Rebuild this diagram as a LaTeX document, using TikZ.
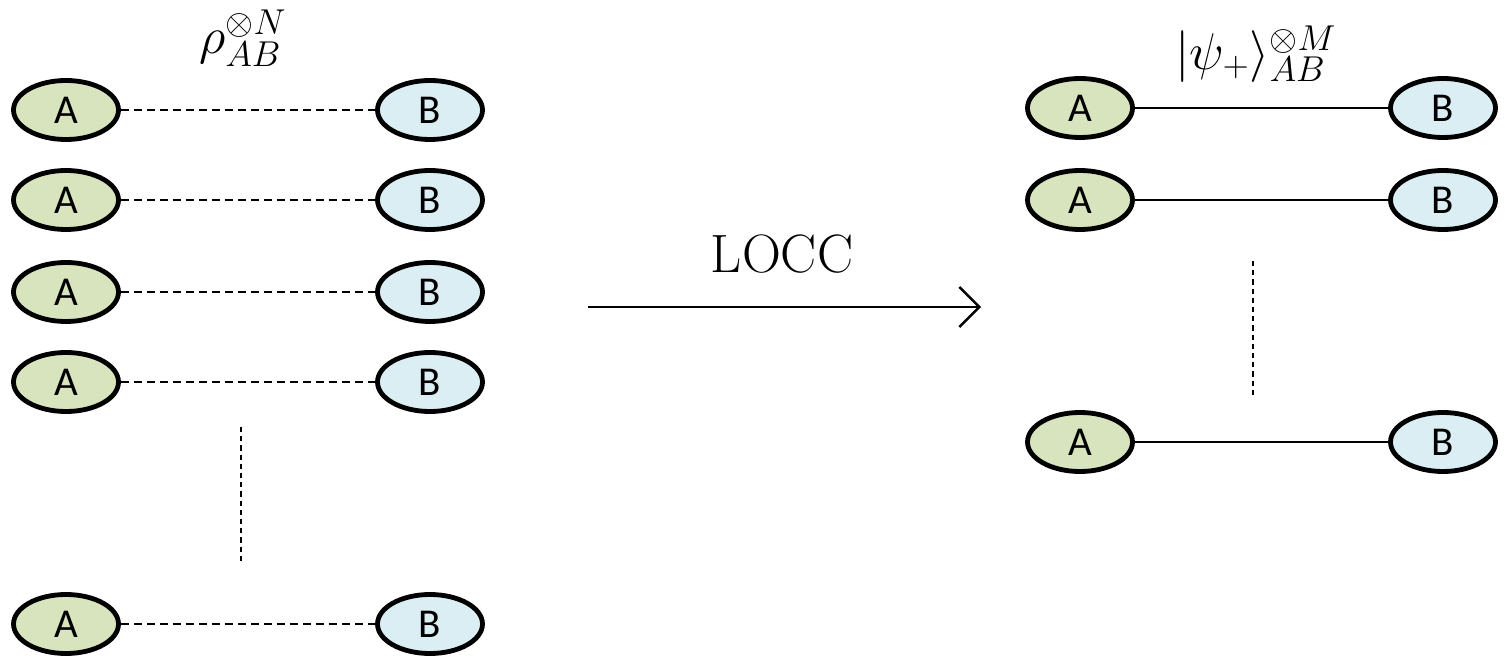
\documentclass[tikz,border=0pt]{standalone}
\usepackage{fontspec}
\newfontfamily\abfont{Carlito}
\usetikzlibrary{shapes.geometric,arrows.meta}
\DeclareMathSizes{24.88}{24.88}{17.28}{12}
\definecolor{agreen}{RGB}{215,228,189}
\definecolor{bblue}{RGB}{219,238,244}
\newcommand{\mathlabtext}[1]{\scalebox{1.04}{\fontsize{24.88}{30}\selectfont$#1$}}
\tikzset{
  party/.style={ellipse, draw=black, line width=2.4pt, minimum width=52.5pt, minimum height=29.5pt, inner sep=0pt, font=\abfont\fontsize{20.5}{24}\selectfont},
  alice/.style={party, fill=agreen},
  bob/.style={party, fill=bblue},
  noisy/.style={line width=0.9pt, dash pattern=on 4pt off 2.5pt},
  pure/.style={line width=0.9pt},
  dots/.style={line width=0.7pt, dash pattern=on 2.6pt off 2pt},
  mathlab/.style={inner sep=0pt},
}
\begin{document}
\begin{tikzpicture}[x=0.5pt,y=-0.5pt]
\useasboundingbox (0,0) rectangle (1505,657);
% left column
\foreach \i/\y in {1/110,2/200,3/292,4/382,5/624}{
  \node[alice] (la\i) at (66,\y) {A};
  \node[bob] (lb\i) at (430,\y) {B};
  \draw[noisy] (la\i) -- (lb\i);
}
\coordinate (lv1) at (241,427);
\coordinate (lv2) at (241,563);
\draw[dots] (lv1) -- (lv2);
\node[mathlab] (rho) at (243,38) {\mathlabtext{\rho^{\otimes N}_{AB}}};
% right column
\foreach \i/\y in {1/108,2/200,3/442}{
  \node[alice] (ra\i) at (1080,\y) {A};
  \node[bob] (rb\i) at (1443,\y) {B};
  \draw[pure] (ra\i) -- (rb\i);
}
\coordinate (rv1) at (1253,261);
\coordinate (rv2) at (1253,397);
\draw[dots] (rv1) -- (rv2);
\node[mathlab] (psi) at (1256,54) {\mathlabtext{|\psi_+\rangle^{\otimes M}_{AB}}};
% arrow
\coordinate (ar1) at (588,307);
\coordinate (ar2) at (981,307);
\draw[line width=1.2pt, -{Straight Barb[length=10pt,width=20pt,line width=1.2pt]}] (ar1) -- (ar2);
\node[font=\fontsize{27}{32}\selectfont, anchor=base, inner sep=0pt] (locc) at (782,273) {LOCC};
\end{tikzpicture}
\end{document}
